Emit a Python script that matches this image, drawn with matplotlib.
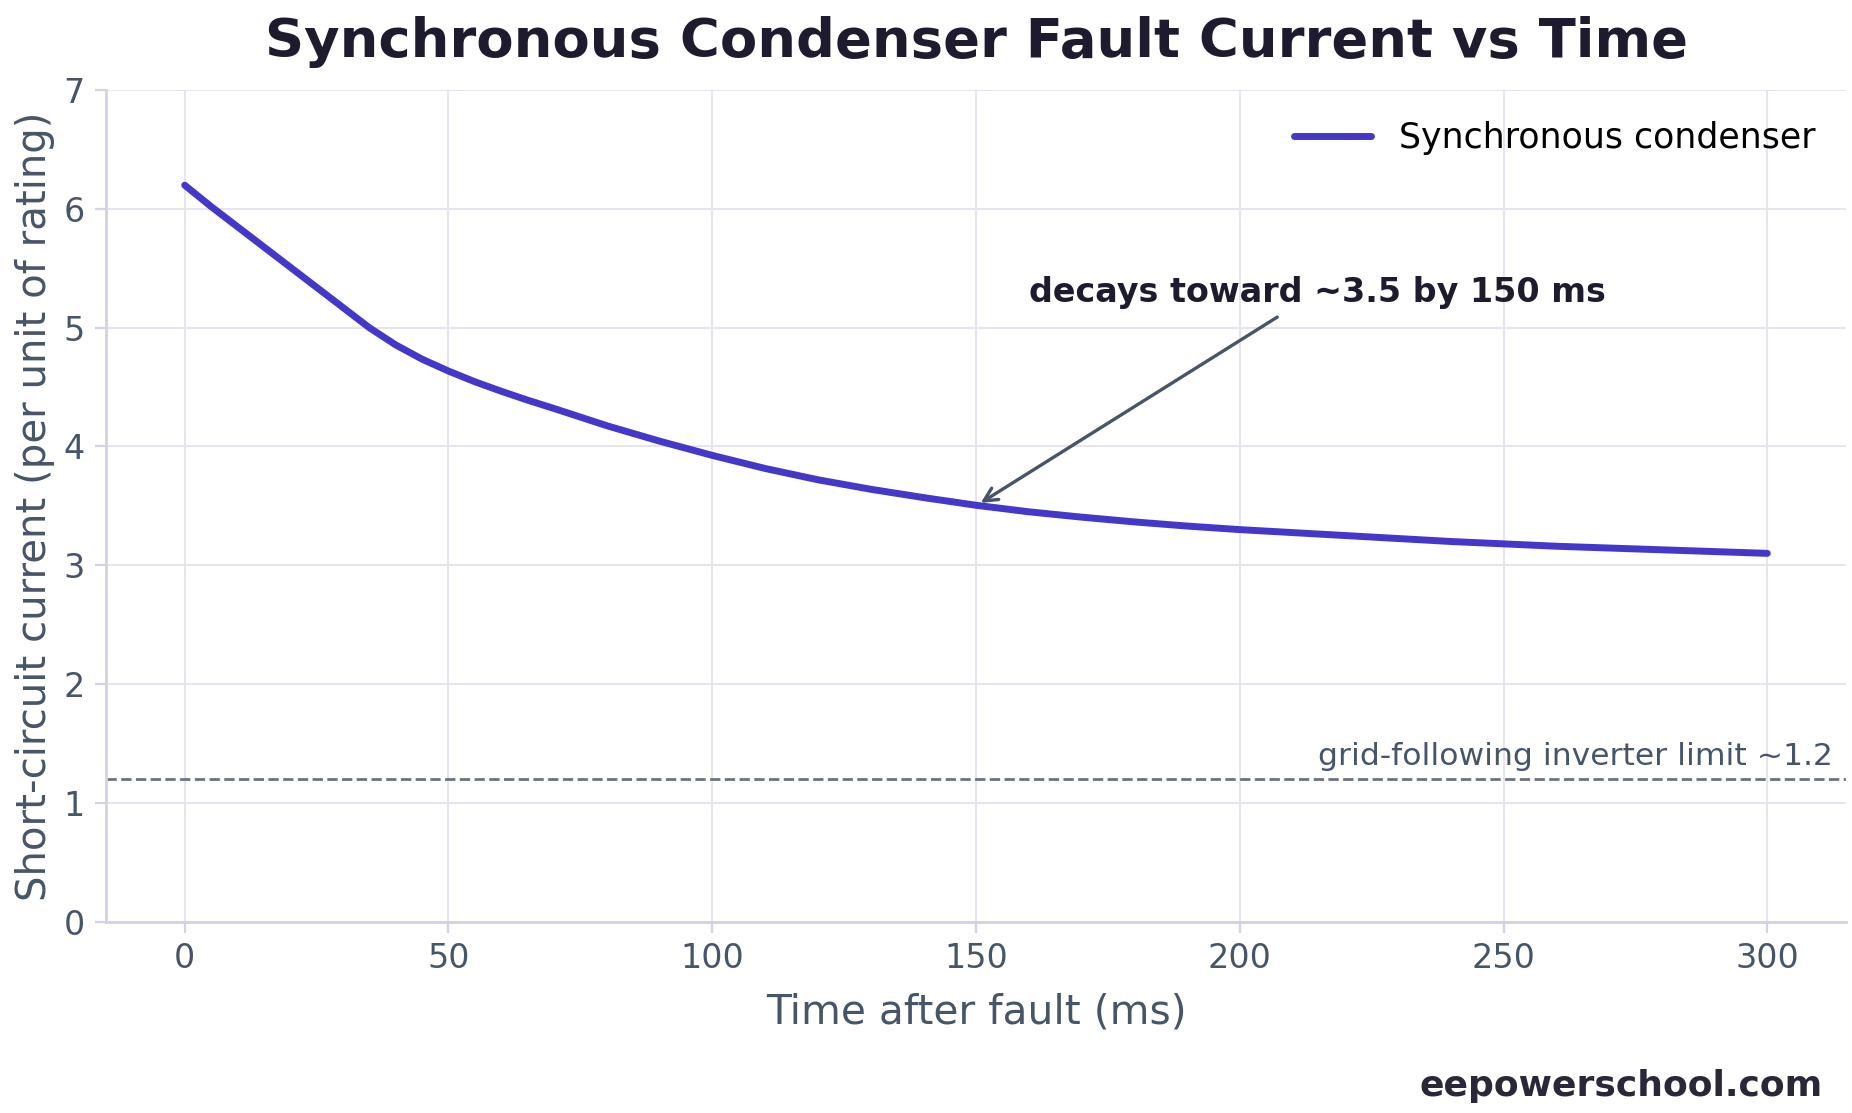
import numpy as np
import matplotlib.pyplot as plt

# values
time_ms = [0, 5, 10, 15, 20, 25, 30, 35, 40, 45, 50, 55, 60, 65, 70, 80, 90, 100,
           110, 120, 130, 140, 150, 160, 170, 180, 190, 200, 220, 240, 260, 280, 300]
current_pu = [6.20, 6.02, 5.85, 5.68, 5.51, 5.34, 5.17, 5.00, 4.855, 4.735, 4.635, 4.545,
              4.465, 4.39, 4.32, 4.175, 4.045, 3.925, 3.815, 3.72, 3.64, 3.57, 3.505,
              3.45, 3.405, 3.365, 3.33, 3.30, 3.25, 3.20, 3.16, 3.13, 3.10]
inverter_limit = 1.2
x_ticks = [0, 50, 100, 150, 200, 250, 300]
y_ticks = [0, 1, 2, 3, 4, 5, 6, 7]

line_color = '#4338ca'
label_color = '#475569'
spine_color = '#d4d1e4'
grid_color = '#e6e4ef'

plt.rcParams['font.family'] = ['DejaVu Sans']

fig = plt.figure(figsize=(9.26, 5.565), dpi=200)
ax = fig.add_axes([0.057, 0.172, 0.94, 0.747])

ax.plot(time_ms, current_pu, color=line_color, linewidth=2.5,
        label='Synchronous condenser', solid_capstyle='round',
        solid_joinstyle='round', zorder=3)

# inverter limit reference line
ax.axhline(inverter_limit, color='#6b7280', linestyle='--', linewidth=1.0, zorder=2)
ax.text(312.5, inverter_limit + 0.07, 'grid-following inverter limit ~1.2',
        color=label_color, fontsize=11.3, ha='right', va='bottom')

# annotation
ax.annotate('decays toward ~3.5 by 150 ms', xy=(150, 3.5), xytext=(160, 5.3),
            fontsize=12, fontweight='bold', color='#1e1b2e', ha='left', va='center',
            arrowprops=dict(arrowstyle='->', color='#475569', lw=1.2))

ax.set_xlim(-15, 315)
ax.set_ylim(0, 7)
ax.set_xticks(x_ticks)
ax.set_yticks(y_ticks)
ax.grid(True, color=grid_color, linewidth=0.7)
ax.set_axisbelow(True)

for s in ['top', 'right']:
    ax.spines[s].set_visible(False)
for s in ['left', 'bottom']:
    ax.spines[s].set_color(spine_color)
    ax.spines[s].set_linewidth(1.0)
ax.tick_params(colors=spine_color, labelcolor=label_color, labelsize=12, length=4)

ax.set_xlabel('Time after fault (ms)', fontsize=14.7, color=label_color, labelpad=6)
ax.set_ylabel('Short-circuit current (per unit of rating)', fontsize=14.5,
              color=label_color, labelpad=3)
ax.set_title('Synchronous Condenser Fault Current vs Time', fontsize=19.6,
             fontweight='bold', color='#1e1b2e', pad=12)

ax.legend(loc='upper right', frameon=False, fontsize=12.5, handlelength=2.2)

fig.text(0.984, 0.024, 'eepowerschool.com', fontsize=13, fontweight='bold',
         color='#2a2838', ha='right', va='center')

fig.savefig('out.png', dpi=200)
